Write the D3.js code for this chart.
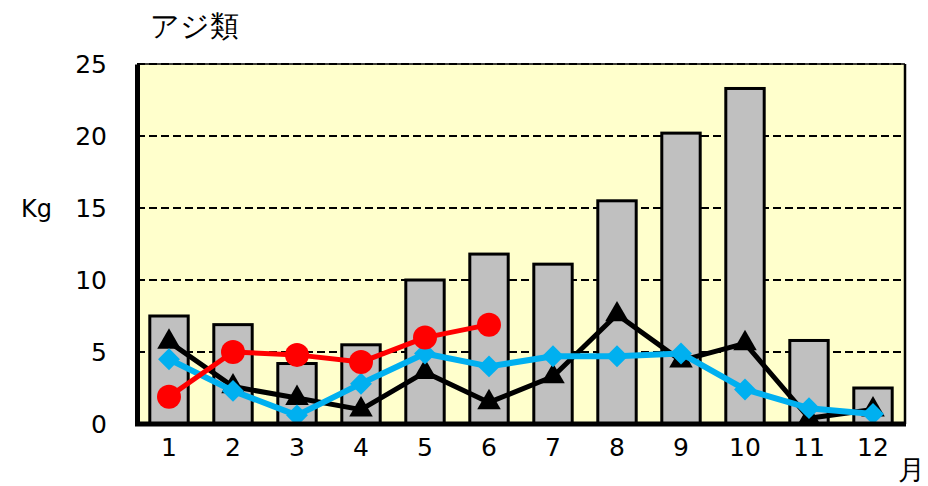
<!DOCTYPE html>
<html>
<head>
<meta charset="utf-8">
<title>アジ類</title>
<style>
  body { margin: 0; background: #fff; }
  text { font-family: "DejaVu Sans", Verdana, sans-serif; }
</style>
</head>
<body>
<script src="https://cdn.jsdelivr.net/npm/d3@7"></script>
<script>
// data
var months = ["1", "2", "3", "4", "5", "6", "7", "8", "9", "10", "11", "12"];
var barValues = [7.5, 6.9, 4.2, 5.5, 10.0, 11.8, 11.1, 15.5, 20.2, 23.3, 5.8, 2.5];
var triValues = [5.7, 2.6, 1.8, 1.0, 3.6, 1.5, 3.3, 7.6, 4.4, 5.6, 0.4, 1.0];
var diaValues = [4.5, 2.3, 0.6, 2.8, 4.9, 4.0, 4.7, 4.7, 4.9, 2.4, 1.1, 0.7];
var redValues = [1.9, 5.0, 4.8, 4.3, 6.0, 6.9];
var yTicks = [0, 5, 10, 15, 20, 25];

var w = 928, h = 486;
var pl = 137, pr = 905, pt = 64, pb = 424;

var svg = d3.select("body").append("svg").attr("width", w).attr("height", h);

var x = d3.scaleBand().domain(months).range([pl, pr]).paddingInner(0.4).paddingOuter(0.2);
var xc = function(i) { return x(months[i]) + x.bandwidth() / 2; };
var y = d3.scaleLinear().domain([0, 25]).range([pb, pt]);

// plot background
svg.append("rect").attr("x", pl).attr("y", pt)
  .attr("width", pr - pl).attr("height", pb - pt)
  .attr("fill", "#ffffcc");

// grid
svg.selectAll("line.grid").data(yTicks.filter(d => d > 0)).enter()
  .append("line").attr("class", "grid")
  .attr("x1", pl).attr("x2", pr)
  .attr("y1", d => y(d)).attr("y2", d => y(d))
  .attr("stroke", "#000").attr("stroke-width", 2).attr("stroke-dasharray", "8,4");

// right / top border
svg.append("line").attr("x1", pr).attr("x2", pr).attr("y1", pt).attr("y2", pb)
  .attr("stroke", "#000").attr("stroke-width", 2.5);
svg.append("line").attr("x1", pl).attr("x2", pr).attr("y1", pt).attr("y2", pt)
  .attr("stroke", "#000").attr("stroke-width", 1.5);

// bars
svg.selectAll("rect.bar").data(barValues).enter()
  .append("rect").attr("class", "bar")
  .attr("x", (d, i) => x(months[i]))
  .attr("y", d => y(d))
  .attr("width", x.bandwidth())
  .attr("height", d => y(0) - y(d))
  .attr("fill", "#c0c0c0").attr("stroke", "#000").attr("stroke-width", 3);

var line = d3.line().x((d, i) => xc(i)).y(d => y(d));

// black triangles
svg.append("path").datum(triValues).attr("d", line)
  .attr("fill", "none").attr("stroke", "#000").attr("stroke-width", 5).attr("stroke-linejoin", "round");
svg.selectAll("path.tri").data(triValues).enter()
  .append("path").attr("class", "tri")
  .attr("d", d3.symbol().type(d3.symbolTriangle).size(240))
  .attr("transform", (d, i) => "translate(" + xc(i) + "," + y(d) + ")")
  .attr("fill", "#000");

// blue diamonds
svg.append("path").datum(diaValues).attr("d", line)
  .attr("fill", "none").attr("stroke", "#00b0f0").attr("stroke-width", 6).attr("stroke-linejoin", "round");
svg.selectAll("path.dia").data(diaValues).enter()
  .append("path").attr("class", "dia")
  .attr("d", d3.symbol().type(d3.symbolSquare).size(240))
  .attr("transform", (d, i) => "translate(" + xc(i) + "," + y(d) + ") rotate(45)")
  .attr("fill", "#00b0f0");

// red circles
svg.append("path").datum(redValues).attr("d", line)
  .attr("fill", "none").attr("stroke", "#ff0000").attr("stroke-width", 5).attr("stroke-linejoin", "round");
svg.selectAll("circle.red").data(redValues).enter()
  .append("circle").attr("class", "red")
  .attr("cx", (d, i) => xc(i)).attr("cy", d => y(d)).attr("r", 12)
  .attr("fill", "#ff0000");

// axes
var yAxis = svg.append("g").attr("transform", "translate(" + pl + ",0)")
  .call(d3.axisLeft(y).tickValues(yTicks).tickSize(0).tickPadding(30));
yAxis.select(".domain").attr("stroke", "#000").attr("stroke-width", 5);
yAxis.selectAll("text").attr("font-size", 25).attr("fill", "#000")
  .attr("font-family", "'DejaVu Sans', Verdana, sans-serif");

var xAxis = svg.append("g").attr("transform", "translate(0," + pb + ")")
  .call(d3.axisBottom(x).tickSize(0).tickPadding(14));
xAxis.select(".domain").attr("stroke", "#000").attr("stroke-width", 5)
  .attr("d", "M" + (pl - 2) + ",0H" + (pr + 1));
xAxis.selectAll("text").attr("font-size", 25).attr("fill", "#000")
  .attr("font-family", "'DejaVu Sans', Verdana, sans-serif");

// labels
svg.append("text").attr("x", 150).attr("y", 36)
  .attr("font-family", "'Noto Sans CJK JP', sans-serif").attr("font-size", 29)
  .text("アジ類");
svg.append("text").attr("x", 21).attr("y", 217)
  .attr("font-size", 24).text("Kg");
svg.append("text").attr("x", 898).attr("y", 479)
  .attr("font-family", "'Noto Sans CJK JP', sans-serif").attr("font-size", 27)
  .text("月");
</script>
</body>
</html>
